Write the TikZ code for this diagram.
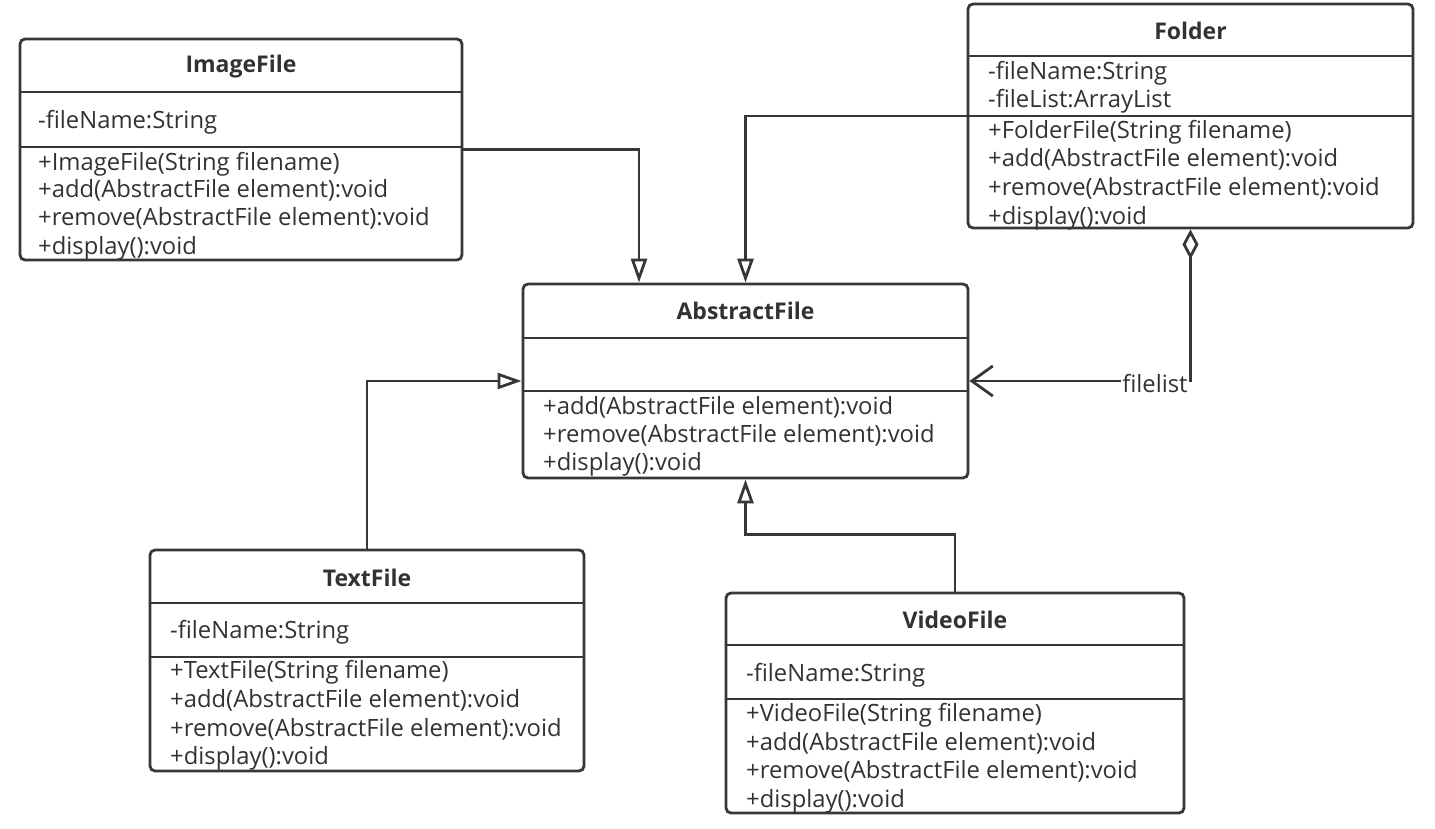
\documentclass[tikz,border=0pt]{standalone}
\usepackage{fontspec}
\setmainfont{Open Sans}
\usetikzlibrary{arrows.meta}
\definecolor{lc}{RGB}{55,55,55}
\definecolor{tc}{RGB}{50,50,50}
\tikzset{
  cls/.style={draw=lc, line width=2.8pt, rounded corners=5pt, inner sep=0pt},
  ttl/.style={font=\bfseries\fontsize{23}{26}\selectfont, text=tc, inner sep=0pt},
  row/.style={anchor=west, inner sep=0pt, text height=17pt, text depth=2pt, font=\fontsize{23.8}{26}\selectfont, text=tc},
  divline/.style={draw=lc, line width=2.8pt},
  gen/.style={draw=lc, line width=2.8pt, -{Triangle[open, length=24pt, width=16pt]}},
  agg/.style={draw=lc, line width=2.8pt, {Diamond[open, length=30pt, width=16pt]}-{Straight Barb[length=21pt, width=30pt]}},
  lbl/.style={fill=white, inner sep=1pt, font=\fontsize{23.8}{26}\selectfont, text=tc},
}
\begin{document}
\begin{tikzpicture}[x=1pt, y=-1pt]
\useasboundingbox (0,0) rectangle (1435,828);

% ---------- ImageFile ----------
\node[ttl] (imgT) at (241,67) {ImageFile};
\node[row] (imgA1) at (38,121) {-fileName:String};
\node[row] (imgM1) at (38,163) {+ImageFile(String filename)};
\node[row] (imgM2) at (38,190) {+add(AbstractFile element):void};
\node[row] (imgM3) at (38,218) {+remove(AbstractFile element):void};
\node[row] (imgM4) at (38,247) {+display():void};
\node[cls, minimum width=442pt, minimum height=221pt] (img) at (241,149.5) {};
\draw[divline] (img.west |- 0,92) -- (img.east |- 0,92);
\draw[divline] (img.west |- 0,147) -- (img.east |- 0,147);

% ---------- Folder ----------
\node[ttl] (folT) at (1190.5,31) {Folder};
\node[row] (folA1) at (988,72) {-fileName:String};
\node[row] (folA2) at (988,100) {-fileList:ArrayList};
\node[row] (folM1) at (988,131) {+FolderFile(String filename)};
\node[row] (folM2) at (988,159) {+add(AbstractFile element):void};
\node[row] (folM3) at (988,188) {+remove(AbstractFile element):void};
\node[row] (folM4) at (988,217) {+display():void};
\node[cls, minimum width=445pt, minimum height=224pt] (fol) at (1190.5,116) {};
\draw[divline] (fol.west |- 0,56) -- (fol.east |- 0,56);
\draw[divline] (fol.west |- 0,116) -- (fol.east |- 0,116);

% ---------- AbstractFile ----------
\node[ttl] (absT) at (745.5,311) {AbstractFile};
\node[row] (absM1) at (543,407) {+add(AbstractFile element):void};
\node[row] (absM2) at (543,435) {+remove(AbstractFile element):void};
\node[row] (absM3) at (543,463) {+display():void};
\node[cls, minimum width=445pt, minimum height=194pt] (abs) at (745.5,381) {};
\draw[divline] (abs.west |- 0,338) -- (abs.east |- 0,338);
\draw[divline] (abs.west |- 0,391) -- (abs.east |- 0,391);

% ---------- TextFile ----------
\node[ttl] (txtT) at (367,578) {TextFile};
\node[row] (txtA1) at (170,631) {-fileName:String};
\node[row] (txtM1) at (170,671) {+TextFile(String filename)};
\node[row] (txtM2) at (170,700) {+add(AbstractFile element):void};
\node[row] (txtM3) at (170,729) {+remove(AbstractFile element):void};
\node[row] (txtM4) at (170,757) {+display():void};
\node[cls, minimum width=434pt, minimum height=221pt] (txt) at (367,660.5) {};
\draw[divline] (txt.west |- 0,603) -- (txt.east |- 0,603);
\draw[divline] (txt.west |- 0,657) -- (txt.east |- 0,657);

% ---------- VideoFile ----------
\node[ttl] (vidT) at (955,620) {VideoFile};
\node[row] (vidA1) at (746,674) {-fileName:String};
\node[row] (vidM1) at (746,714) {+VideoFile(String filename)};
\node[row] (vidM2) at (746,743) {+add(AbstractFile element):void};
\node[row] (vidM3) at (746,771) {+remove(AbstractFile element):void};
\node[row] (vidM4) at (746,800) {+display():void};
\node[cls, minimum width=458pt, minimum height=220pt] (vid) at (955,703) {};
\draw[divline] (vid.west |- 0,645) -- (vid.east |- 0,645);
\draw[divline] (vid.west |- 0,699) -- (vid.east |- 0,699);

% ---------- Connectors ----------
\draw[gen] (img.east) -| ([xshift=-106.5pt]abs.north);
\draw[gen] (fol.west) -| (abs.north);
\draw[gen] (txt.north) |- (abs.west);
\draw[gen] (vid.north) -- ++(0,-57) -| (abs.south);
\draw[agg] (fol.south) |- (abs.east);
\node[lbl] (fl) at (1155,384) {filelist};
\end{tikzpicture}
\end{document}
